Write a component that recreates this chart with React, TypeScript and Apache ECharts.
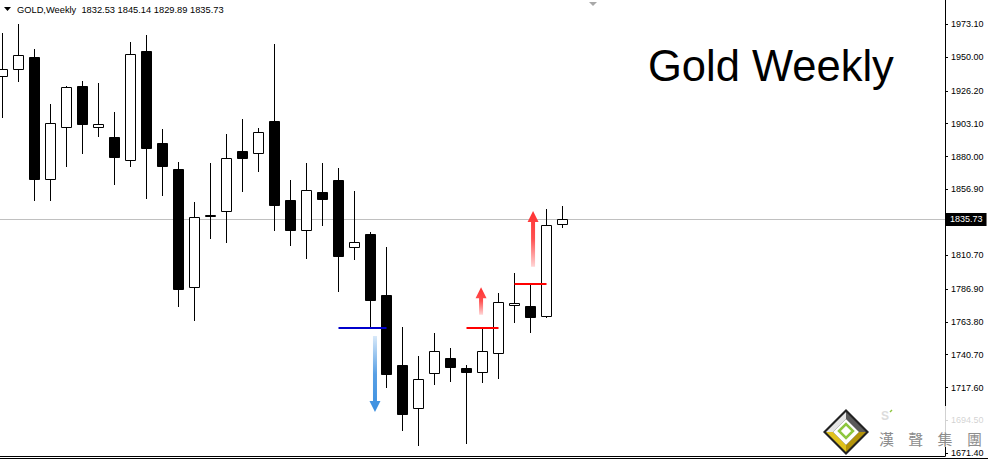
import React, { useEffect, useRef } from 'react';
import * as echarts from 'echarts';

// Weekly OHLC (36 weeks)
const opens = [1936.6, 1941.3, 1949.9, 1864.4, 1900.5, 1929.5, 1900.5, 1893.7, 1877.3, 1954.1, 1889.3, 1871.2, 1788.1, 1838.3, 1841.5, 1883.8, 1882.2, 1904.9, 1849.4, 1828.1, 1854.8, 1863.5, 1816.2, 1825.5, 1782.6, 1733.4, 1703.0, 1727.6, 1738.2, 1731.1, 1728.3, 1741.7, 1775.4, 1774.9, 1767.7, 1832.53];
const closes = [1941.5, 1951.3, 1864.4, 1903.3, 1928.6, 1903.0, 1902.6, 1879.8, 1952.0, 1886.2, 1873.5, 1787.1, 1837.3, 1838.8, 1878.7, 1879.1, 1897.0, 1846.1, 1828.5, 1856.4, 1850.3, 1810.3, 1819.7, 1779.4, 1727.3, 1699.2, 1723.4, 1743.1, 1731.8, 1728.7, 1743.1, 1777.5, 1776.8, 1767.4, 1832.0, 1835.73];
const lows = [1907.0, 1932.6, 1848.9, 1848.9, 1872.8, 1881.7, 1893.9, 1860.2, 1872.8, 1850.3, 1852.4, 1774.4, 1764.6, 1822.2, 1819.4, 1855.2, 1869.3, 1827.8, 1817.3, 1808.2, 1831.3, 1785.0, 1807.5, 1760.4, 1717.5, 1687.3, 1676.7, 1719.6, 1721.7, 1678.1, 1721.0, 1723.8, 1763.2, 1756.0, 1766.5, 1829.89];
const highs = [1966.8, 1973.1, 1955.3, 1916.9, 1929.5, 1933.0, 1931.8, 1911.3, 1960.5, 1965.4, 1899.3, 1876.1, 1848.0, 1875.6, 1895.8, 1906.4, 1900.0, 1959.1, 1863.5, 1875.6, 1875.6, 1871.9, 1855.7, 1827.1, 1816.2, 1760.2, 1739.8, 1755.9, 1745.4, 1733.4, 1759.2, 1784.2, 1798.1, 1789.7, 1843.1, 1845.14];

// Right price axis tick labels
const priceTicks = [1973.1, 1950.0, 1926.2, 1903.1, 1880.0, 1856.9, 1810.7, 1786.9, 1763.8, 1740.7, 1717.6, 1694.5, 1671.4];
const lastPrice = 1835.73;

// Horizontal level segments (bar index from/to, price)
const levelFrom = [21, 29, 32];
const levelTo = [24, 31, 34];
const levelPrice = [1759.6, 1759.6, 1790.4];
const levelColors = ['#0000cc', '#ff0000', '#ff0000'];

// Arrows (bar position, tail price, tip price)
const arrowX = [23.28, 29.91, 33.16];
const arrowTail = [1753.8, 1768.8, 1802.5];
const arrowTip = [1700.4, 1788.1, 1841.7];
const arrowColors = [[59, 143, 224], [255, 50, 50], [255, 50, 50]];

const symbolName = 'GOLD,Weekly';
const chartTitle = 'Gold Weekly';
const logoChars = ['漢', '聲', '集', '團'];

export default function App() {
  const ref = useRef<HTMLDivElement>(null);
  useEffect(() => {
    if (!ref.current) return;
    const chart = echarts.init(ref.current, null, { renderer: 'svg' });
    const n = opens.length;
    const candleData = opens.map((o, i) => [i, o, closes[i], lows[i], highs[i]]);
    const arrowData = arrowX.map((x, i) => [x, arrowTail[i], arrowTip[i], i]);
    const fmt = (v: number) => v.toFixed(2);
    const header = `${symbolName}  ${fmt(opens[n - 1])} ${fmt(highs[n - 1])} ${fmt(lows[n - 1])} ${fmt(closes[n - 1])}`;
    const font = 'Liberation Sans, Arial, sans-serif';

    const levelLines = levelFrom.map((f, i) => [
      { coord: [f, levelPrice[i]], lineStyle: { color: levelColors[i], width: 2, type: 'solid' } },
      { coord: [levelTo[i], levelPrice[i]] },
    ]);

    const option: any = {
      animation: false,
      backgroundColor: '#ffffff',
      grid: { left: 0, right: 43, top: 0, bottom: 3 },
      xAxis: {
        type: 'value',
        min: -0.15625,
        max: -0.15625 + 945 / 16,
        axisLine: { show: true, onZero: false, lineStyle: { color: '#000', width: 1 } },
        axisTick: { show: false },
        axisLabel: { show: false },
        splitLine: { show: false },
      },
      yAxis: {
        type: 'value',
        position: 'right',
        min: 1669.5,
        max: 1990.0,
        axisLine: { show: true, onZero: false, lineStyle: { color: '#000', width: 1 } },
        axisTick: { show: true, length: 3, customValues: priceTicks, lineStyle: { color: '#000' } },
        axisLabel: {
          show: true,
          customValues: priceTicks,
          formatter: (v: number) => v.toFixed(2),
          margin: 6,
          color: '#000',
          fontSize: 9,
          fontFamily: font,
        },
        splitLine: { show: false },
      },
      series: [
        {
          type: 'line',
          data: [],
          z: 1,
          markLine: {
            silent: true,
            z: 1,
            symbol: ['none', 'none'],
            animation: false,
            data: [
              {
                yAxis: lastPrice,
                lineStyle: { color: '#c0c0c0', width: 1, type: 'solid' },
                label: {
                  show: true,
                  position: 'end',
                  formatter: () => lastPrice.toFixed(2),
                  backgroundColor: '#000',
                  color: '#fff',
                  fontSize: 9,
                  fontFamily: font,
                  padding: [2, 4, 2, 4],
                  distance: 1,
                },
              },
            ],
          },
        },
        {
          type: 'custom',
          z: 2,
          data: candleData,
          encode: { x: 0, y: [1, 2, 3, 4] },
          renderItem: (params: any, api: any) => {
            const i = api.value(0);
            const o = api.value(1);
            const c = api.value(2);
            const l = api.value(3);
            const h = api.value(4);
            const po = api.coord([i, o]);
            const pc = api.coord([i, c]);
            const pl = api.coord([i, l]);
            const ph = api.coord([i, h]);
            const cx = Math.round(po[0] - 0.5) + 0.5;
            const bull = c >= o;
            const top = Math.round(Math.min(po[1], pc[1])) + 0.5;
            const bot = Math.round(Math.max(po[1], pc[1])) + 0.5;
            return {
              type: 'group',
              children: [
                {
                  type: 'line',
                  shape: { x1: cx, y1: Math.round(ph[1]), x2: cx, y2: Math.round(pl[1]) },
                  style: { stroke: '#000', lineWidth: 1 },
                },
                {
                  type: 'rect',
                  shape: { x: cx - 5, y: top, width: 10, height: Math.max(0, bot - top) },
                  style: { fill: bull ? '#fff' : '#000', stroke: '#000', lineWidth: 1 },
                },
              ],
            };
          },
        },
        {
          type: 'custom',
          z: 3,
          data: arrowData,
          encode: { x: 0, y: [1, 2] },
          renderItem: (params: any, api: any) => {
            const x = api.value(0);
            const pt = api.coord([x, api.value(1)]);
            const pp = api.coord([x, api.value(2)]);
            const col = arrowColors[api.value(3)];
            const cx = pt[0];
            const yT = pt[1];
            const yP = pp[1];
            const d = yP > yT ? 1 : -1;
            const hl = 11, sw = 2, hw = 5.5;
            const yh = yP - d * hl;
            const rgba = (a: number) => `rgba(${col[0]},${col[1]},${col[2]},${a})`;
            const grad = new echarts.graphic.LinearGradient(0, d > 0 ? 0 : 1, 0, d > 0 ? 1 : 0, [
              { offset: 0, color: rgba(0.2) },
              { offset: 0.5, color: rgba(0.85) },
              { offset: 1, color: rgba(1) },
            ]);
            return {
              type: 'polygon',
              shape: {
                points: [
                  [cx - sw, yT], [cx - sw, yh], [cx - hw, yh], [cx, yP],
                  [cx + hw, yh], [cx + sw, yh], [cx + sw, yT],
                ],
              },
              style: { fill: grad },
            };
          },
          markLine: {
            silent: true,
            z: 10,
            symbol: ['none', 'none'],
            animation: false,
            label: { show: false },
            data: levelLines,
          },
        },
      ],
      graphic: [
        { type: 'polygon', z: 100, shape: { points: [[4, 7], [11, 7], [7.5, 11]] }, style: { fill: '#000' } },
        {
          type: 'text', z: 100, x: 17, y: 10,
          style: { text: header, fontSize: 9.3, fontFamily: font, fill: '#000', verticalAlign: 'middle' },
        },
        { type: 'polygon', z: 100, shape: { points: [[589, 2], [597, 2], [593, 6]] }, style: { fill: '#a8a8a8' } },
        {
          type: 'text', z: 100, x: 648, y: 65.5,
          style: { text: chartTitle, fontSize: 43.5, fontFamily: font, fill: '#000', verticalAlign: 'middle' },
        },
        { type: 'line', z: 100, shape: { x1: 0, y1: 458.5, x2: 988, y2: 458.5 }, style: { stroke: '#000', lineWidth: 1 } },
        // watermark logo
        { type: 'rect', z: 100, shape: { x: 874, y: 406, width: 114, height: 41 }, style: { fill: 'rgba(255,255,255,0.82)' } },
        { type: 'polygon', z: 101, shape: { points: [[823, 432], [846, 409], [869, 432], [846, 455]] }, style: { fill: '#222' } },
        { type: 'polygon', z: 102, shape: { points: [[826, 432], [846, 412], [846, 419], [833, 432]] }, style: { fill: '#e6e6e6' } },
        { type: 'polygon', z: 102, shape: { points: [[846, 412], [866, 432], [859, 432], [846, 419]] }, style: { fill: '#5a5a5a' } },
        { type: 'polygon', z: 102, shape: { points: [[826, 432], [833, 432], [846, 445], [846, 452]] }, style: { fill: '#e0c21c' } },
        { type: 'polygon', z: 102, shape: { points: [[866, 432], [846, 452], [846, 445], [859, 432]] }, style: { fill: '#b3930a' } },
        { type: 'polygon', z: 102, shape: { points: [[833, 432], [846, 419], [859, 432], [846, 445]] }, style: { fill: '#fff' } },
        { type: 'polygon', z: 103, shape: { points: [[839, 431], [846, 424], [853, 431], [846, 438]] }, style: { fill: '#fff', stroke: '#8dc63f', lineWidth: 2.5 } },
        {
          type: 'text', z: 103, x: 881, y: 416,
          style: { text: 'S', fontSize: 12, fontWeight: 'bold', fontFamily: font, fill: '#dcdcdc', verticalAlign: 'middle' },
        },
        { type: 'line', z: 103, shape: { x1: 890, y1: 412, x2: 892, y2: 410 }, style: { stroke: '#8dc63f', lineWidth: 1.5 } },
        ...logoChars.map((ch, i) => ({
          type: 'text', z: 103, x: 886.5 + i * 29.3, y: 438,
          style: {
            text: ch, fontSize: 15, fontFamily: 'Noto Sans CJK TC', fill: '#8c8c8c',
            align: 'center', verticalAlign: 'middle',
          },
        })),
      ],
    };
    chart.setOption(option);
    return () => chart.dispose();
  }, []);
  return (
    <div
      ref={ref}
      style={{ position: 'fixed', left: 0, top: 0, width: 988, height: 459, background: '#fff' }}
    />
  );
}
